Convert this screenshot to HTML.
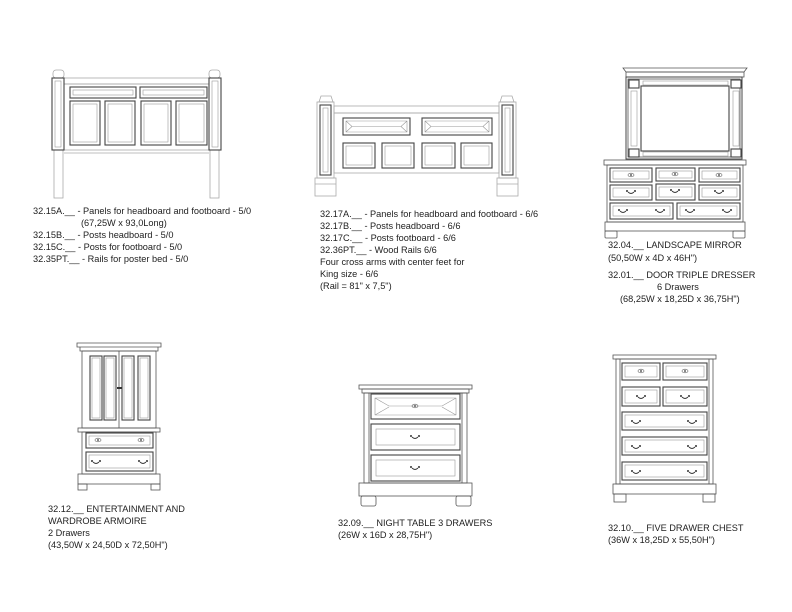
<!DOCTYPE html>
<html><head><meta charset="utf-8"><style>
html,body{margin:0;padding:0;background:#fff;}
svg{display:block}
text{font-family:"Liberation Sans",sans-serif;font-size:9.2px;fill:#222;}
.o{fill:none;stroke:#555;stroke-width:.8}
.l{fill:none;stroke:#aaa;stroke-width:.8}
.p{fill:#fff;stroke:#444;stroke-width:1.1}
.pi{fill:none;stroke:#999;stroke-width:.6}
.h{fill:none;stroke:#333;stroke-width:.9}
</style></head><body>
<svg width="792" height="612" viewBox="0 0 792 612" xmlns="http://www.w3.org/2000/svg">
<defs>
<g id="hd"><circle cx="-4" cy="0" r="1" fill="#333"/><circle cx="4" cy="0" r="1" fill="#333"/><path class="h" d="M-3 1 Q0 4 3 1"/></g>
<g id="kn"><ellipse cx="0" cy="0" rx="3" ry="1.8" fill="none" stroke="#555" stroke-width=".6"/><circle cx="0" cy="0" r=".9" fill="#333"/></g>
</defs>
<!-- Headboard 1 -->
<g>
<rect class="l" x="54" y="150" width="9" height="48"/><rect class="l" x="210" y="150" width="9" height="48"/>
<rect class="l" x="53" y="70" width="11" height="8" rx="3"/><rect class="l" x="209" y="70" width="11" height="8" rx="3"/>
<rect class="l" x="64" y="78" width="145" height="6"/>
<rect class="l" x="64" y="84" width="145" height="66"/>
<line class="l" x1="64" y1="153" x2="209" y2="153"/>
<rect class="p" x="52" y="78" width="12" height="72"/><rect class="pi" x="55" y="81" width="6" height="66"/>
<rect class="p" x="209" y="78" width="12" height="72"/><rect class="pi" x="212" y="81" width="6" height="66"/>
<rect class="p" x="70" y="87" width="66" height="11"/><rect class="pi" x="73" y="90" width="60" height="5"/>
<rect class="p" x="140" y="87" width="67" height="11"/><rect class="pi" x="143" y="90" width="61" height="5"/>
<rect class="p" x="70" y="101" width="30" height="44"/><rect class="pi" x="73" y="104" width="24" height="38"/>
<rect class="p" x="105" y="101" width="30" height="44"/><rect class="pi" x="108" y="104" width="24" height="38"/>
<rect class="p" x="141" y="101" width="30" height="44"/><rect class="pi" x="144" y="104" width="24" height="38"/>
<rect class="p" x="176" y="101" width="31" height="44"/><rect class="pi" x="179" y="104" width="25" height="38"/>
</g>
<text x="33" y="214">32.15A.__ - Panels for headboard and footboard - 5/0</text>
<text x="81" y="226">(67,25W x 93,0Long)</text>
<text x="33" y="238">32.15B.__ - Posts headboard - 5/0</text>
<text x="33" y="250">32.15C.__ - Posts for footboard - 5/0</text>
<text x="33" y="262">32.35PT.__ - Rails for poster bed - 5/0</text>

<!-- Headboard 2 -->
<g>
<path class="l" d="M319 102 L321 96 L331 96 L333 102 Z M500 102 L502 96 L512 96 L514 102 Z"/>
<rect class="l" x="317" y="102" width="17" height="76"/><rect class="l" x="499" y="102" width="17" height="76"/>
<rect class="l" x="315" y="178" width="21" height="18"/><rect class="l" x="497" y="178" width="21" height="18"/>
<line class="l" x1="315" y1="184" x2="336" y2="184"/><line class="l" x1="497" y1="184" x2="518" y2="184"/>
<rect class="l" x="334" y="106" width="165" height="7"/>
<rect class="l" x="334" y="113" width="165" height="60"/>
<rect class="p" x="320" y="105" width="11" height="70"/><rect class="pi" x="323" y="108" width="5" height="64"/>
<rect class="p" x="502" y="105" width="11" height="70"/><rect class="pi" x="505" y="108" width="5" height="64"/>
<rect class="p" x="343" y="118" width="67" height="17"/><path class="pi" d="M346 121 H407 V132 H346 Z M346 121 L352 126.5 H401 L407 121 M346 132 L352 126.5 M401 126.5 L407 132"/>
<rect class="p" x="422" y="118" width="70" height="17"/><path class="pi" d="M425 121 H489 V132 H425 Z M425 121 L431 126.5 H483 L489 121 M425 132 L431 126.5 M483 126.5 L489 132"/>
<rect class="p" x="343" y="143" width="32" height="25"/><rect class="pi" x="346" y="146" width="26" height="19"/>
<rect class="p" x="382" y="143" width="32" height="25"/><rect class="pi" x="385" y="146" width="26" height="19"/>
<rect class="p" x="422" y="143" width="33" height="25"/><rect class="pi" x="425" y="146" width="27" height="19"/>
<rect class="p" x="461" y="143" width="31" height="25"/><rect class="pi" x="464" y="146" width="25" height="19"/>
</g>
<text x="320" y="217">32.17A.__ - Panels for headboard and footboard - 6/6</text>
<text x="320" y="229">32.17B.__ - Posts headboard - 6/6</text>
<text x="320" y="241">32.17C.__ - Posts footboard - 6/6</text>
<text x="320" y="253">32.36PT.__ -  Wood Rails 6/6</text>
<text x="320" y="265">Four cross arms with center feet for</text>
<text x="320" y="277">King size - 6/6</text>
<text x="320" y="289">(Rail = 81" x 7,5")</text>

<!-- Mirror + dresser -->
<g>
<path class="o" d="M623 68 H747 L744 72 H626 Z"/>
<rect class="o" x="626" y="72" width="118" height="5"/>
<rect class="p" x="626" y="77" width="116" height="82" style="stroke-width:1"/>
<rect class="o" x="628" y="79" width="112" height="78"/>
<rect class="p" x="641" y="86" width="88" height="65"/>
<rect class="p" x="629" y="80" width="10" height="8"/><rect class="p" x="731" y="80" width="10" height="8"/>
<rect class="p" x="629" y="149" width="10" height="8"/><rect class="p" x="731" y="149" width="10" height="8"/>
<rect class="pi" x="643" y="81" width="85" height="4"/><rect class="pi" x="643" y="152" width="85" height="4"/>
<rect class="pi" x="631" y="91" width="6" height="55"/><rect class="pi" x="733" y="91" width="6" height="55"/>
<rect class="o" x="604" y="160" width="142" height="5"/>
<rect class="o" x="607" y="165" width="136" height="57"/>
<rect class="p" x="610" y="168" width="42" height="14"/><rect class="pi" x="613" y="171" width="36" height="8"/>
<rect class="p" x="656" y="168" width="39" height="13"/><rect class="pi" x="659" y="171" width="33" height="7"/>
<rect class="p" x="699" y="168" width="41" height="14"/><rect class="pi" x="702" y="171" width="35" height="8"/>
<rect class="p" x="610" y="185" width="42" height="15"/><rect class="pi" x="613" y="188" width="36" height="9"/>
<rect class="p" x="656" y="184" width="39" height="16"/><rect class="pi" x="659" y="187" width="33" height="10"/>
<rect class="p" x="699" y="185" width="41" height="15"/><rect class="pi" x="702" y="188" width="35" height="9"/>
<rect class="p" x="610" y="203" width="63" height="16"/><rect class="pi" x="613" y="206" width="57" height="10"/>
<rect class="p" x="677" y="203" width="63" height="16"/><rect class="pi" x="680" y="206" width="57" height="10"/>
<use href="#kn" x="631" y="175"/><use href="#kn" x="675" y="174"/><use href="#kn" x="719" y="175"/>
<use href="#hd" x="631" y="191"/><use href="#hd" x="675" y="190"/><use href="#hd" x="719" y="191"/>
<use href="#hd" x="623" y="210"/><use href="#hd" x="660" y="210"/><use href="#hd" x="690" y="210"/><use href="#hd" x="727" y="210"/>
<rect class="o" x="605" y="222" width="140" height="9"/>
<rect class="o" x="605" y="231" width="12" height="7" rx="1"/><rect class="o" x="733" y="231" width="12" height="7" rx="1"/>
</g>
<text x="608" y="248">32.04.__ LANDSCAPE MIRROR</text>
<text x="608" y="261">(50,50W x 4D x 46H")</text>
<text x="608" y="278">32.01.__ DOOR TRIPLE DRESSER</text>
<text x="657" y="290">6 Drawers</text>
<text x="620" y="302">(68,25W x 18,25D x 36,75H")</text>

<!-- Armoire -->
<g>
<path class="o" d="M77 343 H161 V347 H77 Z M80 347 H158 V351 H80 Z"/>
<rect class="o" x="82" y="351" width="74" height="77"/>
<line class="o" x1="119" y1="351" x2="119" y2="428"/>
<rect class="p" x="90" y="356" width="12" height="64"/><rect class="pi" x="92" y="358" width="8" height="60"/>
<rect class="p" x="104" y="356" width="12" height="64"/><rect class="pi" x="106" y="358" width="8" height="60"/>
<rect class="p" x="122" y="356" width="12" height="64"/><rect class="pi" x="124" y="358" width="8" height="60"/>
<rect class="p" x="138" y="356" width="12" height="64"/><rect class="pi" x="140" y="358" width="8" height="60"/>
<rect x="117" y="387" width="5" height="2" fill="#333"/>
<rect class="o" x="78" y="428" width="82" height="4"/>
<rect class="o" x="82" y="432" width="74" height="42"/>
<rect class="p" x="86" y="433" width="67" height="15"/><rect class="pi" x="89" y="436" width="61" height="9"/>
<rect class="p" x="86" y="452" width="67" height="19"/><rect class="pi" x="89" y="455" width="61" height="13"/>
<use href="#kn" x="98" y="440"/><use href="#kn" x="141" y="440"/>
<use href="#hd" x="96" y="461"/><use href="#hd" x="143" y="461"/>
<rect class="o" x="78" y="474" width="82" height="10"/>
<rect class="o" x="78" y="484" width="9" height="6"/><rect class="o" x="151" y="484" width="9" height="6"/>
</g>
<text x="48" y="512">32.12.__ ENTERTAINMENT AND</text>
<text x="48" y="524">WARDROBE ARMOIRE</text>
<text x="48" y="536">2 Drawers</text>
<text x="48" y="548">(43,50W x 24,50D x 72,50H")</text>

<!-- Night table -->
<g>
<rect class="o" x="359" y="385" width="113" height="4"/>
<rect class="o" x="362" y="389" width="107" height="4"/>
<rect class="o" x="364" y="393" width="103" height="90"/>
<line class="o" x1="369" y1="393" x2="369" y2="483"/><line class="o" x1="462" y1="393" x2="462" y2="483"/>
<rect class="p" x="371" y="394" width="89" height="25"/><path class="pi" d="M375 398 H456 V415 H375 Z M375 398 L389 406 H442 L456 398 M375 415 L389 407 M442 407 L456 415"/>
<rect class="p" x="371" y="424" width="89" height="26"/><rect class="pi" x="376" y="429" width="79" height="16"/>
<rect class="p" x="371" y="455" width="89" height="26"/><rect class="pi" x="376" y="460" width="79" height="16"/>
<use href="#kn" x="415" y="406"/><use href="#hd" x="415" y="436"/><use href="#hd" x="415" y="467"/>
<rect class="o" x="359" y="483" width="113" height="13"/>
<rect class="o" x="361" y="496" width="15" height="10" rx="2"/><rect class="o" x="456" y="496" width="15" height="10" rx="2"/>
</g>
<text x="338" y="526">32.09.__ NIGHT TABLE 3 DRAWERS</text>
<text x="338" y="538">(26W x 16D x 28,75H")</text>

<!-- Chest -->
<g>
<rect class="o" x="613" y="355" width="103" height="4"/>
<rect class="o" x="616" y="359" width="97" height="125"/>
<line class="o" x1="620" y1="359" x2="620" y2="484"/><line class="o" x1="709" y1="359" x2="709" y2="484"/>
<rect class="p" x="622" y="363" width="38" height="17"/><rect class="pi" x="625" y="366" width="32" height="11"/>
<rect class="p" x="663" y="363" width="44" height="17"/><rect class="pi" x="666" y="366" width="38" height="11"/>
<rect class="p" x="622" y="387" width="38" height="19"/><rect class="pi" x="625" y="390" width="32" height="13"/>
<rect class="p" x="663" y="387" width="44" height="19"/><rect class="pi" x="666" y="390" width="38" height="13"/>
<rect class="p" x="622" y="412" width="85" height="18"/><rect class="pi" x="625" y="415" width="79" height="12"/>
<rect class="p" x="622" y="437" width="85" height="18"/><rect class="pi" x="625" y="440" width="79" height="12"/>
<rect class="p" x="622" y="462" width="85" height="18"/><rect class="pi" x="625" y="465" width="79" height="12"/>
<use href="#kn" x="641" y="371"/><use href="#kn" x="685" y="371"/>
<use href="#hd" x="641" y="396"/><use href="#hd" x="685" y="396"/>
<use href="#hd" x="636" y="421"/><use href="#hd" x="692" y="421"/>
<use href="#hd" x="636" y="446"/><use href="#hd" x="692" y="446"/>
<use href="#hd" x="636" y="471"/><use href="#hd" x="692" y="471"/>
<rect class="o" x="613" y="484" width="103" height="10"/>
<rect class="o" x="614" y="494" width="12" height="8"/><rect class="o" x="703" y="494" width="12" height="8"/>
</g>
<text x="608" y="531">32.10.__ FIVE DRAWER CHEST</text>
<text x="608" y="543">(36W x 18,25D x 55,50H")</text>
</svg>
</body></html>
